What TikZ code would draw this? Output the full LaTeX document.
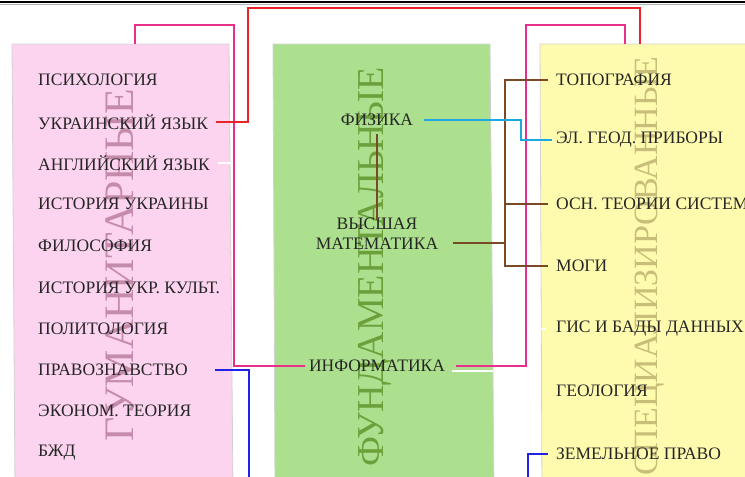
\documentclass[tikz,border=0pt]{standalone}
\usepackage{fontspec}
\setmainfont{Liberation Serif}
\begin{document}
\begin{tikzpicture}[x=1pt,y=-1pt,
  item/.style={anchor=west,inner sep=0pt,font=\fontsize{17.5}{17.5}\selectfont,text=black!85},
  citem/.style={anchor=center,inner sep=0pt,font=\fontsize{17.5}{20}\selectfont,text=black!85,align=center},
  big/.style={rotate=90,inner sep=0pt,anchor=center},
  panel/.style={draw=gray!35,line width=0.8pt},
  conn/.style={line width=1.6pt},
  stub/.style={white,line width=1.2pt},
  ]
\definecolor{pinkfill}{RGB}{252,212,239}
\definecolor{greenfill}{RGB}{173,224,142}
\definecolor{yellowfill}{RGB}{255,251,174}
\definecolor{pinktxt}{RGB}{196,140,170}
\definecolor{greentxt}{RGB}{108,160,58}
\definecolor{yellowtxt}{RGB}{200,190,122}
\definecolor{cpink}{RGB}{232,48,138}
\definecolor{cred}{RGB}{232,36,40}
\definecolor{cbrown}{RGB}{122,74,38}
\definecolor{ccyan}{RGB}{30,168,224}
\definecolor{cblue}{RGB}{34,34,230}
\useasboundingbox (0,0) rectangle (745,477);
\clip (0,0) rectangle (745,477);
% top rule
\draw[black,line width=1.6pt] (0,2) -- (745,2);
\draw[gray!60,line width=0.8pt] (0,4) -- (745,4);
% panels
\fill[pinkfill] (12,44) -- (229,44) -- (233,490) -- (15,490) -- cycle;
\draw[panel] (15,490) -- (12,44) -- (229,44) -- (233,490);
\fill[greenfill] (273,44) -- (490,44) -- (494,490) -- (275,490) -- cycle;
\draw[panel] (275,490) -- (273,44) -- (490,44) -- (494,490);
\fill[yellowfill] (540,44) -- (760,44) -- (760,490) -- (542,490) -- cycle;
\draw[panel] (542,490) -- (540,44) -- (760,44);
% big vertical titles
\node[big,text=pinktxt,font=\fontsize{42}{42}\selectfont] (tH) at (120,265) {ГУМАНИТАРНЫЕ};
\node[big,text=greentxt,font=\fontsize{38}{38}\selectfont] (tF) at (375,267) {ФУНДАМЕНТАЛЬНЫЕ};
\node[big,text=yellowtxt,font=\fontsize{34}{34}\selectfont] (tS) at (650,266) {СПЕЦИАЛИЗИРОВАННЫЕ};
% left items
\node[item] (psy) at (38,80) {ПСИХОЛОГИЯ};
\node[item] (ukr) at (38,122) {УКРАИНСКИЙ ЯЗЫК};
\node[item] (eng) at (38,163) {АНГЛИЙСКИЙ ЯЗЫК};
\node[item] (hist) at (38,204) {ИСТОРИЯ УКРАИНЫ};
\node[item] (phil) at (38,246) {ФИЛОСОФИЯ};
\node[item] (cult) at (38,288) {ИСТОРИЯ УКР. КУЛЬТ.};
\node[item] (pol) at (38,329) {ПОЛИТОЛОГИЯ};
\node[item] (law) at (38,370) {ПРАВОЗНАВСТВО};
\node[item] (econ) at (38,411) {ЭКОНОМ. ТЕОРИЯ};
\node[item] (bzd) at (38,453) {БЖД};
% middle items
\node[citem] (phys) at (377,120) {ФИЗИКА};
\node[citem] (math) at (377,234) {ВЫСШАЯ\\МАТЕМАТИКА};
\node[citem] (inf) at (377,366) {ИНФОРМАТИКА};
% right items
\node[item] (topo) at (556,80) {ТОПОГРАФИЯ};
\node[item] (geod) at (556,140) {ЭЛ. ГЕОД. ПРИБОРЫ};
\node[item] (sys) at (556,204) {ОСН. ТЕОРИИ СИСТЕМ};
\node[item] (mogi) at (556,266) {МОГИ};
\node[item] (gis) at (556,329) {ГИС И БАДЫ ДАННЫХ};
\node[item] (geol) at (556,391) {ГЕОЛОГИЯ};
\node[item] (zem) at (556,454) {ЗЕМЕЛЬНОЕ ПРАВО};
% coordinates
\coordinate (hTop) at (135,44);
\coordinate (sTopP) at (625,44);
\coordinate (sTopR) at (640,44);
\coordinate (bv) at (505,0);
\coordinate (mathOut) at (453,243);
% white stubs
\draw[stub] ([xshift=8pt]eng.east) -- ++(14,0);
\draw[stub] ([xshift=7pt]inf.east) ++(0,5) -- (493,371);
\draw[stub] (539,141) -- ([xshift=-3pt]geod.west);
\draw[stub] (541,329) -- ([xshift=-10pt]gis.west);
% pink connector
\draw[conn,cpink] (hTop) |- (234,25) |- ([xshift=-4pt]inf.west);
\draw[conn,cpink] ([xshift=11pt]inf.east) -| (526,25) -| (sTopP);
% red connector
\draw[conn,cred] ([xshift=8pt]ukr.east) -| (248,8) -| (sTopR);
% brown connectors
\draw[conn,cbrown] (phys.south) ++(0,8) -- ([yshift=-2pt]math.north);
\draw[conn,cbrown] (mathOut) -- (mathOut -| bv);
\draw[conn,cbrown] ([xshift=-8pt]topo.west) -- (topo.west -| bv) -- (mogi.west -| bv) -- ([xshift=-8pt]mogi.west);
\draw[conn,cbrown] (sys.west -| bv) -- ([xshift=-8pt]sys.west);
% cyan connector
\draw[conn,ccyan] ([xshift=11pt]phys.east) -| (521,137) |- ([xshift=-4pt]geod.west);
% blue connector
\draw[conn,cblue] ([xshift=27pt]law.east) -| (249,500) -- (528,500) |- ([xshift=-8pt]zem.west);
\end{tikzpicture}
\end{document}
